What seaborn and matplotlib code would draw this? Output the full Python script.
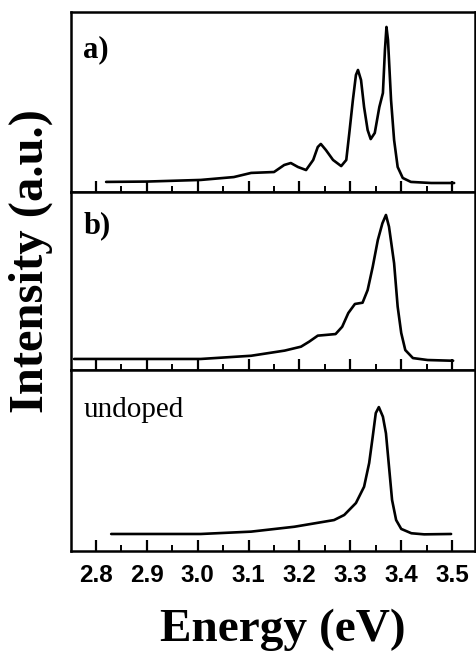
import numpy as np
import pandas as pd
import matplotlib
matplotlib.use("Agg")
import matplotlib.pyplot as plt
import seaborn as sns

# Panel a) - doped sample 1
energy_a = [2.82, 2.90, 3.006, 3.071, 3.105, 3.150, 3.170, 3.183, 3.197, 3.213,
            3.227, 3.236, 3.242, 3.252, 3.266, 3.282, 3.292, 3.298, 3.305,
            3.311, 3.315, 3.321, 3.327, 3.334, 3.340, 3.348, 3.357, 3.364,
            3.368, 3.371, 3.374, 3.380, 3.386, 3.393, 3.403, 3.419, 3.459,
            3.504]
inten_a = [0.056, 0.058, 0.067, 0.083, 0.106, 0.111, 0.150, 0.161, 0.139, 0.122,
           0.178, 0.250, 0.267, 0.233, 0.178, 0.144, 0.178, 0.328, 0.511,
           0.650, 0.678, 0.622, 0.472, 0.344, 0.294, 0.328, 0.472, 0.550,
           0.789, 0.917, 0.844, 0.511, 0.289, 0.139, 0.078, 0.056, 0.050,
           0.050]

# Panel b) - doped sample 2
energy_b = [2.757, 2.90, 3.006, 3.105, 3.171, 3.203, 3.219, 3.236, 3.252, 3.271,
            3.284, 3.296, 3.309, 3.324, 3.334, 3.344, 3.354, 3.363, 3.370,
            3.376, 3.386, 3.393, 3.400, 3.408, 3.423, 3.452, 3.502]
inten_b = [0.062, 0.062, 0.062, 0.080, 0.109, 0.131, 0.159, 0.193, 0.197, 0.202,
           0.243, 0.320, 0.371, 0.378, 0.449, 0.580, 0.730, 0.824, 0.871,
           0.805, 0.600, 0.356, 0.208, 0.112, 0.067, 0.056, 0.052]

# undoped
energy_c = [2.83, 2.90, 3.006, 3.105, 3.190, 3.268, 3.288, 3.311, 3.327, 3.337,
            3.344, 3.350, 3.356, 3.364, 3.370, 3.376, 3.382, 3.390, 3.400,
            3.420, 3.445, 3.498]
inten_c = [0.094, 0.094, 0.094, 0.107, 0.134, 0.171, 0.199, 0.265, 0.355, 0.486,
           0.632, 0.762, 0.795, 0.742, 0.650, 0.466, 0.282, 0.171, 0.122,
           0.098, 0.092, 0.094]

panel_labels = ["a)", "b)", "undoped"]
xticks = [2.8, 2.9, 3.0, 3.1, 3.2, 3.3, 3.4, 3.5]

sns.set_style("ticks")
plt.rcParams["font.family"] = ["Liberation Sans", "DejaVu Sans"]
plt.rcParams.update({"text.color": "black", "axes.edgecolor": "black",
                     "xtick.color": "black", "axes.labelcolor": "black"})

fig = plt.figure(figsize=(4.76, 6.51), dpi=100)
W, H = 476.0, 651.0
left, right = 71 / W, 475 / W
edges = [12, 192, 370, 551]  # pixel rows of panel boundaries
label_y = [0.79, 0.81, 0.78]

series = [(energy_a, inten_a), (energy_b, inten_b), (energy_c, inten_c)]
for i, (ex, iy) in enumerate(series):
    top, bot = edges[i], edges[i + 1]
    ax = fig.add_axes([left, 1 - bot / H, right - left, (bot - top) / H])
    df = pd.DataFrame({"Energy": ex, "Intensity": iy})
    line = sns.lineplot(data=df, x="Energy", y="Intensity", ax=ax, color="black",
                        linewidth=1.9, estimator=None, sort=False)
    for ln in ax.lines:
        ln.set_solid_joinstyle("round")
    ax.set_xlim(2.751, 3.545)
    ax.set_ylim(0, 1)
    ax.set_xlabel("")
    ax.set_ylabel("")
    ax.set_yticks([])
    ax.set_xticks(xticks)
    ax.set_xticks(np.arange(2.85, 3.5, 0.1), minor=True)
    ax.tick_params(axis="x", which="major", direction="in", length=8, width=1.6,
                   top=False)
    ax.tick_params(axis="x", which="minor", direction="in", length=4, width=1.4,
                   top=False)
    for s in ax.spines.values():
        s.set_linewidth(1.8)
    if i < 2:
        ax.tick_params(axis="x", labelbottom=False)
        ax.text(0.03, label_y[i], panel_labels[i], transform=ax.transAxes,
                fontsize=22, fontweight="bold", family="Liberation Serif",
                va="center", ha="left")
    else:
        ax.set_xticklabels([f"{t:.1f}" for t in xticks], fontsize=17.5,
                           fontweight="bold")
        ax.tick_params(axis="x", pad=9)
        ax.text(0.03, label_y[i], panel_labels[i], transform=ax.transAxes,
                fontsize=21, family="Liberation Serif", va="center", ha="left")

fig.text(283 / W, 1 - 630 / H, "Energy (eV)", fontsize=34, fontweight="bold",
         family="Liberation Serif", ha="center", va="center")
fig.text(31 / W, 1 - 261 / H, "Intensity (a.u.)", fontsize=35,
         fontweight="bold", family="Liberation Serif", ha="center",
         va="center", rotation=90)

fig.savefig("out.png", dpi=100)
